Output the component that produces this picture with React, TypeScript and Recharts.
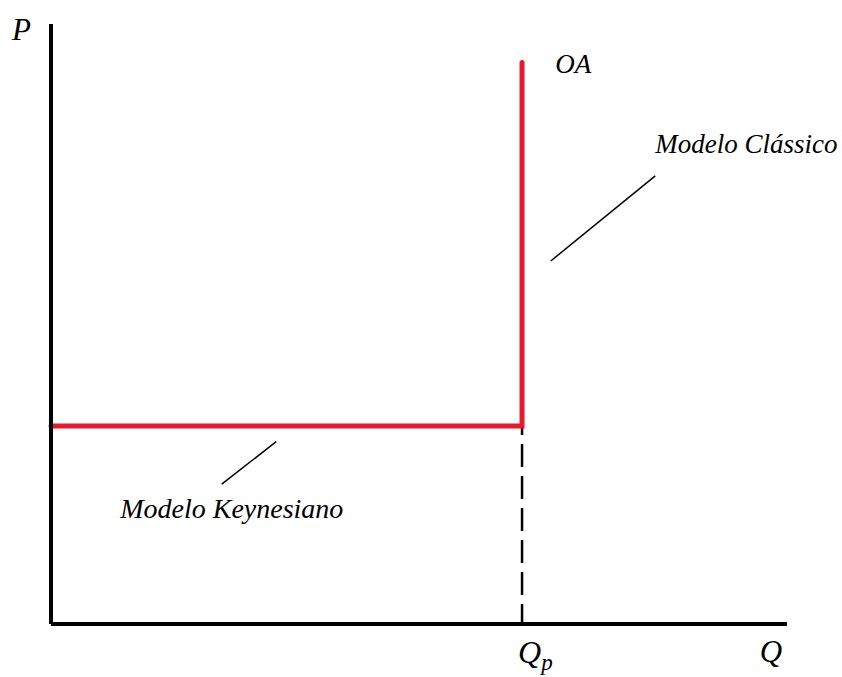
import { LineChart, Line, XAxis, YAxis, ReferenceLine, ReferenceDot } from "recharts";

// aggregate supply curve (OA): flat keynesian part, then vertical classical part
const QP = 64;
const PRICE_FLOOR = 33;
const supply = [
  { q: 0, p: PRICE_FLOOR },
  { q: QP, p: PRICE_FLOOR },
  { q: QP, p: 93.6 },
];

// leader lines pointing at the two segments
const classicLeader = [
  { x: 67.9, y: 60.5 },
  { x: 82.1, y: 74.7 },
];
const keynesLeader = [
  { x: 23.2, y: 23.3 },
  { x: 30.6, y: 30.4 },
];

// text labels placed in data units
const notes = [
  { x: 68.5, y: 91.8, text: "OA", size: 27 },
  { x: 82.1, y: 78.5, text: "Modelo Clássico", size: 27 },
  { x: 9.4, y: 17.7, text: "Modelo Keynesiano", size: 28 },
  { x: -5.3, y: 97.3, text: "P", size: 31 },
  { x: 96.3, y: -6.3, text: "Q", size: 31 },
];

const FONT = "'Liberation Serif', 'Times New Roman', serif";
const RED = "#e8192c";

function noteShape(text: string, size: number) {
  return (props: any) => (
    <text
      x={props.cx}
      y={props.cy}
      fontFamily={FONT}
      fontStyle="italic"
      fontSize={size}
      fill="#000"
    >
      {text}
    </text>
  );
}

function QpTick(props: any) {
  const { x, y } = props;
  return (
    <text x={x - 4} y={y + 39} fontFamily={FONT} fontStyle="italic" fontSize={32} fill="#000">
      Q
      <tspan fontSize={23} dy={7}>
        p
      </tspan>
    </text>
  );
}

export default function App() {
  return (
    <div style={{ position: "absolute", left: 0, top: 0, background: "#fff" }}>
      <LineChart width={842} height={677} margin={{ top: 24, right: 55, left: 50, bottom: 0 }}>
        <XAxis
          dataKey="q"
          type="number"
          domain={[0, 100]}
          ticks={[QP]}
          tick={QpTick}
          tickLine={false}
          tickSize={0}
          tickMargin={0}
          height={53}
          axisLine={{ stroke: "#000", strokeWidth: 4 }}
        />
        <YAxis
          type="number"
          domain={[0, 100]}
          tick={false}
          tickLine={false}
          width={1}
          axisLine={{ stroke: "#000", strokeWidth: 4 }}
        />
        <ReferenceLine
          segment={[
            { x: QP, y: PRICE_FLOOR },
            { x: QP, y: 0 },
          ]}
          stroke="#000"
          strokeWidth={2.5}
          strokeDasharray="23 9"
          strokeDashoffset={14}
        />
        <ReferenceLine segment={classicLeader} stroke="#000" strokeWidth={1.5} />
        <ReferenceLine segment={keynesLeader} stroke="#000" strokeWidth={1.5} />
        <Line
          data={supply}
          dataKey="p"
          type="linear"
          stroke={RED}
          strokeWidth={5}
          strokeLinecap="round"
          strokeLinejoin="miter"
          dot={false}
          isAnimationActive={false}
        />
        {notes.map((n) => (
          <ReferenceDot
            key={n.text}
            x={n.x}
            y={n.y}
            r={0}
            ifOverflow="visible"
            shape={noteShape(n.text, n.size)}
          />
        ))}
      </LineChart>
    </div>
  );
}
